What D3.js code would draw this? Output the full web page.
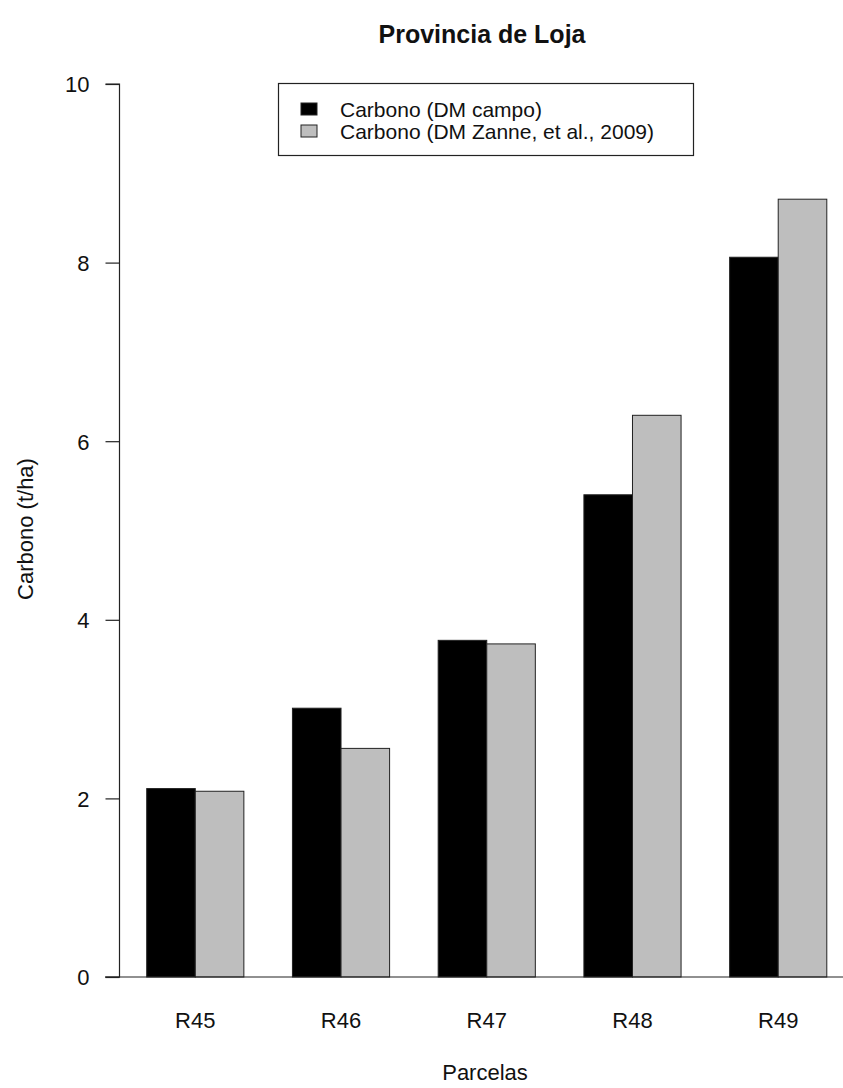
<!DOCTYPE html>
<html>
<head>
<meta charset="utf-8">
<script src="https://cdn.jsdelivr.net/npm/d3@7"></script>
<style>
  html, body { margin: 0; padding: 0; background: #ffffff; }
  svg { display: block; font-family: "Liberation Sans", Arial, sans-serif; }
</style>
</head>
<body>
<svg id="chart" width="843" height="1088"></svg>
<script>
const categories = ["R45", "R46", "R47", "R48", "R49"];
const seriesNames = ["Carbono (DM campo)", "Carbono (DM Zanne, et al., 2009)"];
const campo = [2.11, 3.01, 3.77, 5.40, 8.06];
const zanne = [2.08, 2.56, 3.73, 6.29, 8.71];
const yTicks = [0, 2, 4, 6, 8, 10];
const colors = ["#000000", "#bebebe"];

const svg = d3.select("#chart");

// x scale in R barplot units (bars of width 1, space = c(0,1))
const x = d3.scaleLinear().domain([0.44, 15.56]).range([119.5, 854]);
const y = d3.scaleLinear().domain([0, 10]).range([977, 84]);

const series = [campo, zanne];
const bars = [];
categories.forEach((c, i) => {
  series.forEach((s, j) => {
    const left = 1 + 3 * i + j;
    bars.push({ cat: c, j, v: s[i], left });
  });
});

svg.append("g").selectAll("rect")
  .data(bars)
  .enter().append("rect")
  .attr("x", d => x(d.left))
  .attr("width", d => x(d.left + 1) - x(d.left))
  .attr("y", d => y(d.v))
  .attr("height", d => y(0) - y(d.v))
  .attr("fill", d => colors[d.j])
  .attr("stroke", "#222")
  .attr("stroke-width", 1);

// baseline
svg.append("line")
  .attr("x1", 105).attr("x2", 843)
  .attr("y1", y(0)).attr("y2", y(0))
  .attr("stroke", "#222").attr("stroke-width", 1.2);

// y axis
const yAxis = d3.axisLeft(y).tickValues(yTicks).tickSize(14).tickPadding(16).tickFormat(d3.format("d"));
const gy = svg.append("g").attr("transform", "translate(119.5,0)").call(yAxis);
gy.attr("font-size", null).attr("font-family", null);
gy.select(".domain").attr("stroke", "#222").attr("stroke-width", 1.2).attr("d", `M-14,${y(10)}H0V${y(0)}H-14`);
gy.selectAll(".tick line").attr("stroke", "#222").attr("stroke-width", 1.2);
gy.selectAll(".tick text").style("font-size", "22px").attr("fill", "#111").attr("dy", "0.36em");

// x category labels
svg.append("g").selectAll("text")
  .data(categories)
  .enter().append("text")
  .attr("x", (d, i) => x(2 + 3 * i))
  .attr("y", 1028)
  .attr("text-anchor", "middle")
  .style("font-size", "22px")
  .attr("fill", "#111")
  .text(d => d);

// axis titles
svg.append("text")
  .attr("x", 485).attr("y", 1080)
  .attr("text-anchor", "middle")
  .style("font-size", "22px")
  .attr("fill", "#111")
  .text("Parcelas");

svg.append("text")
  .attr("transform", "translate(33,529) rotate(-90)")
  .attr("text-anchor", "middle")
  .style("font-size", "22px")
  .attr("fill", "#111")
  .text("Carbono (t/ha)");

// title
svg.append("text")
  .attr("x", 482).attr("y", 43)
  .attr("text-anchor", "middle")
  .style("font-size", "25px")
  .attr("font-weight", "bold")
  .attr("fill", "#111")
  .text("Provincia de Loja");

// legend
const lg = svg.append("g");
lg.append("rect")
  .attr("x", 278.5).attr("y", 83.5).attr("width", 415).attr("height", 72)
  .attr("fill", "#fff").attr("stroke", "#222").attr("stroke-width", 1.2);
seriesNames.forEach((name, j) => {
  const base = 117 + j * 22;
  lg.append("rect")
    .attr("x", 301).attr("y", base - 14).attr("width", 16).attr("height", 12)
    .attr("fill", colors[j]).attr("stroke", "#222").attr("stroke-width", 1);
  lg.append("text")
    .attr("x", 340).attr("y", base)
    .style("font-size", "21px")
    .attr("fill", "#111")
    .text(name);
});
</script>
</body>
</html>
